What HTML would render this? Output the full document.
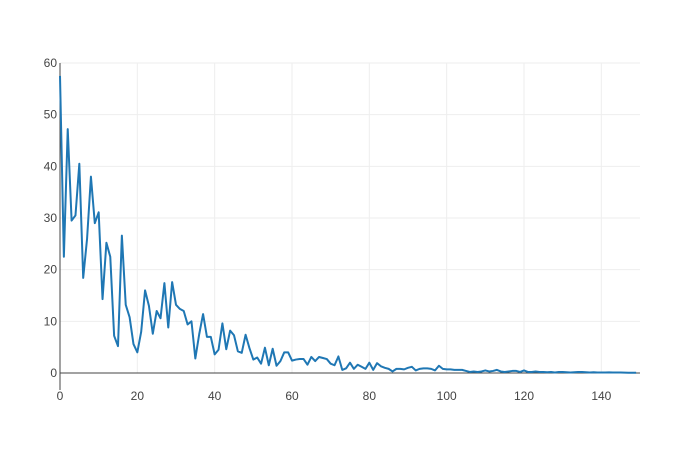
<!DOCTYPE html>
<html><head><meta charset="utf-8"><style>
body{margin:0;background:#fff;}
svg{display:block;font-family:"Liberation Sans",sans-serif;}
</style></head><body>
<svg id="chart" width="700" height="450" xmlns="http://www.w3.org/2000/svg">
<defs><clipPath id="plotclip"><rect x="59" y="40" width="582" height="340"/></clipPath></defs>
<g id="grid"></g>
<g id="axes"></g>
<path id="line" clip-path="url(#plotclip)" fill="none" stroke="#1f77b4" stroke-width="2" stroke-linejoin="round"></path>
</svg>
<script>
const yValues=[57.5,22.5,47.2,29.5,30.5,40.5,18.4,26,38,29,31.1,14.3,25.2,22.5,7.2,5.2,26.6,13.2,10.8,5.6,4,8,16,13,7.6,12,10.6,17.4,8.8,17.6,13.2,12.4,12,9.4,10,2.8,7.5,11.4,7,7,3.6,4.5,9.6,4.6,8.2,7.3,4.2,3.9,7.4,4.8,2.6,3,1.8,4.9,1.5,4.7,1.4,2.3,4,4,2.4,2.6,2.7,2.7,1.6,3.1,2.3,3.1,2.9,2.7,1.8,1.5,3.2,0.6,0.9,2,0.8,1.6,1.2,0.8,2,0.6,1.9,1.3,1,0.8,0.3,0.8,0.8,0.7,1,1.2,0.5,0.8,0.9,0.9,0.8,0.5,1.4,0.8,0.7,0.7,0.6,0.6,0.6,0.4,0.2,0.3,0.2,0.3,0.5,0.3,0.4,0.6,0.3,0.2,0.3,0.4,0.4,0.2,0.5,0.2,0.2,0.3,0.2,0.2,0.15,0.2,0.1,0.2,0.2,0.15,0.1,0.15,0.2,0.2,0.15,0.1,0.15,0.1,0.1,0.1,0.12,0.1,0.1,0.1,0.08,0.05,0.05,0.05];
const xTicks=[0,20,40,60,80,100,120,140];
const yTicks=[0,10,20,30,40,50,60];
const X0=60,X1=640,Y0=373,Y1=63,xMax=150,yMax=60;
const sx=v=>X0+v/xMax*(X1-X0);
const sy=v=>Y0-v/yMax*(Y0-Y1);
const NS="http://www.w3.org/2000/svg";
const grid=document.getElementById('grid'),axes=document.getElementById('axes');
function mk(tag,attrs,parent){const e=document.createElementNS(NS,tag);for(const k in attrs)e.setAttribute(k,attrs[k]);parent.appendChild(e);return e;}
yTicks.forEach(t=>{
  if(t>0){const l=mk('line',{x1:X0,x2:X1,y1:sy(t),y2:sy(t),stroke:'#eee','stroke-width':1},grid);
  
  }
  const tx=mk('text',{x:X0-3,y:sy(t)+4,'text-anchor':'end','font-size':12,fill:'#444'},axes);
  tx.textContent=t;
  
  
});
xTicks.forEach(t=>{
  if(t>0){const l=mk('line',{x1:sx(t),x2:sx(t),y1:Y1,y2:Y0,stroke:'#eee','stroke-width':1},grid);
  
  }
  const tx=mk('text',{x:sx(t),y:Y0+27,'text-anchor':'middle','font-size':12,fill:'#444'},axes);
  tx.textContent=t;
  
  
});
const za=mk('line',{x1:X0,x2:X1,y1:Y0,y2:Y0,stroke:'#444','stroke-width':1},axes);


const ya=mk('line',{x1:X0,x2:X0,y1:Y1,y2:Y0+17,stroke:'#444','stroke-width':1},axes);


document.getElementById('line').setAttribute('d',yValues.map((v,i)=>(i?'L':'M')+sx(i).toFixed(2)+','+sy(v).toFixed(2)).join(''));
</script>
</body></html>
